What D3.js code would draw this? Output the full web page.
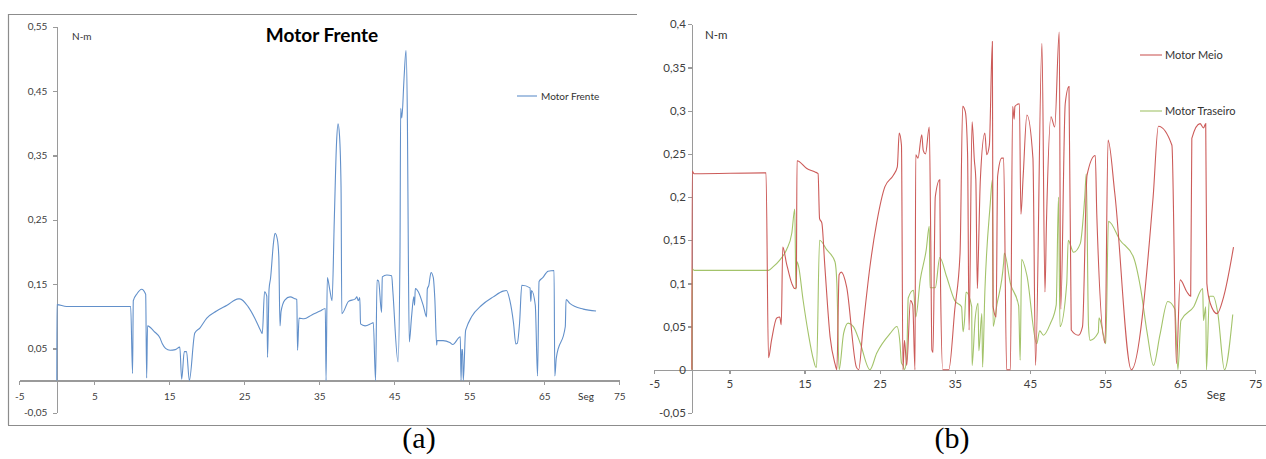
<!DOCTYPE html>
<html>
<head>
<meta charset="utf-8">
<script src="https://cdn.jsdelivr.net/npm/d3@7"></script>
<style>
  body { margin: 0; background: #fff; }
  svg { display: block; }
  .axis path, .axis line { stroke: #9a9a9a; stroke-width: 1.3; shape-rendering: crispEdges; }
  .axis text { fill: #404040; font-family: Lato, "Open Sans", sans-serif; }
  .lbl { fill: #333; font-family: Lato, "Open Sans", sans-serif; }
</style>
</head>
<body>
<svg id="chart" width="1266" height="459"></svg>
<script>
// ---- panel (a): Motor Frente ----
var frenteT = [0,0.02,1.3,9.85,10.1,10.2,10.7,11.3,11.85,11.98,12.1,13.0,13.76,14.07,14.5,15.1,15.8,16.4,16.65,17.0,17.3,17.67,18.4,19.1,20.0,21.3,22.7,24.2,24.4,25.5,26.4,27.2,27.4,27.7,28.0,28.1,28.3,28.5,28.9,29.1,29.4,29.6,29.76,29.9,30.4,31.1,31.8,32.0,32.1,32.3,32.96,34.0,35.1,35.8,35.9,36.07,36.4,36.7,37.0,37.3,37.5,37.7,37.9,38.0,38.9,39.8,40.0,40.2,40.4,40.5,41.1,42.0,42.2,42.5,42.7,42.9,43.3,43.4,44.0,44.65,44.8,45.5,45.76,45.85,46.0,46.3,46.56,46.75,46.87,47.0,47.3,47.6,47.7,47.8,48.2,48.9,49.3,49.4,49.6,49.9,50.2,50.4,50.65,50.7,51.5,52.4,52.8,53.8,53.9,54.0,54.1,54.2,54.5,54.6,55.3,56.65,58.2,59.5,59.95,60.4,60.9,61.2,61.4,61.7,62.0,63.1,63.2,63.3,63.8,64.1,64.3,64.8,65.5,66.3,66.4,66.6,67.8,67.9,68.4,70.2,71.9];
var frenteV = [0,0.118,0.115,0.115,0.011,0.124,0.135,0.142,0.134,0.004,0.085,0.076,0.066,0.057,0.05,0.047,0.048,0.052,0.002,0.045,0.045,0,0.074,0.082,0.097,0.108,0.117,0.127,0.127,0.115,0.097,0.077,0.073,0.138,0.131,0.036,0.142,0.159,0.215,0.229,0.22,0.193,0.085,0.107,0.125,0.13,0.127,0.126,0.047,0.097,0.096,0.102,0.108,0.112,0,0.16,0.141,0.124,0.25,0.37,0.399,0.38,0.3,0.104,0.123,0.127,0.13,0.124,0.129,0.088,0.085,0.089,0.09,0,0.156,0.155,0.106,0.161,0.164,0.163,0.14,0.029,0.2,0.423,0.408,0.47,0.513,0.4,0.2,0.06,0.099,0.13,0.117,0.143,0.138,0.115,0.099,0.142,0.148,0.168,0.16,0.128,0.055,0.062,0.062,0.059,0.056,0.068,0,0.048,0.048,0,0.077,0.081,0.099,0.117,0.13,0.139,0.14,0.125,0.089,0.057,0.058,0.089,0.148,0.144,0.123,0.14,0.117,0.007,0.154,0.16,0.17,0.171,0.007,0.035,0.084,0.126,0.12,0.111,0.108];

// ---- panel (b): Motor Meio / Motor Traseiro ----
var meioT = [0,0.05,0.3,9.87,10.2,10.6,11.3,11.7,11.9,12.1,12.6,13.3,13.7,13.9,14.0,15.3,16.4,16.8,17.0,17.3,17.7,18.4,19.05,19.3,19.6,19.9,20.6,21.9,22.2,22.8,23.7,24.6,25.7,26.8,27.35,27.6,27.9,28.1,28.3,28.6,29.1,29.4,29.7,29.8,30.1,30.6,30.8,31.1,31.6,31.8,31.95,32.1,32.4,33.0,33.1,33.4,34.2,35.0,35.7,36.05,36.4,36.7,36.9,37.3,37.6,37.8,38.0,38.1,38.4,39.0,39.25,39.6,40.0,40.1,40.5,40.7,41.25,41.5,41.9,42.4,42.7,42.9,43.0,43.6,43.8,44.1,44.6,45.4,45.75,46.6,47.0,47.2,47.8,48.3,48.9,49.1,49.7,50.2,50.5,51.45,52.0,52.6,53.7,53.9,55.0,55.4,56.3,58.5,61.4,62.1,63.9,64.5,65.0,65.9,66.4,66.55,67.65,68.1,68.4,68.55,69.0,69.9,70.8,72.1];
var meioV = [0,0.23,0.227,0.228,0.014,0.034,0.06,0.061,0.052,0.142,0.123,0.1,0.094,0.095,0.242,0.233,0.229,0.227,0.175,0.17,0.12,0.038,0.007,0,0.11,0.113,0.096,0.003,0,0.05,0.119,0.17,0.212,0.225,0.235,0.274,0.26,0,0.034,0.005,0.08,0.075,0,0.249,0.245,0.272,0.254,0.25,0.281,0.15,0.023,0.02,0.2,0.22,0.1,0,0,0.07,0.135,0.305,0.299,0.25,0.046,0.287,0.243,0.22,0.094,0.12,0.22,0.274,0.249,0.26,0.38,0.073,0.061,0.224,0.245,0.245,0,0,0.305,0.29,0.305,0.308,0.18,0.224,0.295,0.245,0.005,0.378,0.09,0.17,0.293,0.281,0.391,0.07,0.308,0.328,0.046,0.04,0.05,0.225,0.248,0.18,0.031,0.266,0.204,0,0.2,0.282,0.26,0.007,0.104,0.09,0.085,0.268,0.285,0.28,0.285,0.1,0.077,0.065,0.085,0.142];
var traseiroT = [0,0.05,0.3,10.2,10.8,11.7,12.6,13.3,13.7,13.85,14.0,14.2,14.8,15.5,16.2,16.5,16.6,17.0,17.95,19.05,19.3,19.6,20.2,20.8,21.5,22.4,23.7,24.6,26.4,27.3,27.7,27.9,28.1,28.3,28.6,28.8,29.5,29.8,30.4,31.2,31.6,31.7,32.4,33.0,33.9,35.0,35.9,36.1,36.3,36.5,37.25,37.3,37.7,38.1,38.2,38.6,38.7,39.0,39.7,40.0,40.1,40.6,41.5,41.6,42.4,43.5,43.7,43.9,44.6,45.9,46.3,46.8,47.7,48.5,48.8,49.0,49.9,50.1,50.8,51.7,52.3,52.5,52.8,53.0,54.1,54.2,54.8,55.1,55.45,57.0,58.8,59.7,60.6,61.45,62.3,63.35,64.3,64.7,65.1,66.8,68.0,68.1,68.4,68.5,68.9,69.4,70.0,70.9,72.0];
var traseiroV = [0,0.117,0.115,0.115,0.119,0.127,0.139,0.158,0.186,0.093,0.125,0.12,0.081,0.042,0.011,0.003,0.003,0.15,0.139,0.125,0.1,0,0.042,0.054,0.05,0.031,0,0.019,0.042,0.05,0.031,0.008,0.005,0,0.015,0.083,0.092,0.061,0.104,0.139,0.166,0.095,0.095,0.13,0.108,0.08,0.073,0.044,0.058,0.09,0.073,0.005,0.058,0.077,0.022,0.065,0.003,0.09,0.19,0.22,0.05,0.075,0.124,0.135,0.1,0.074,0.011,0.128,0.109,0.03,0.045,0.04,0.053,0.075,0.2,0.05,0.1,0.15,0.136,0.146,0.2,0.227,0.05,0.034,0.043,0.06,0.04,0.03,0.172,0.15,0.13,0.096,0.043,0.005,0.04,0.079,0.07,0,0.057,0.073,0.094,0.057,0.073,0,0.085,0.085,0.066,0,0.064];

var xTicks = [-5,5,15,25,35,45,55,65,75];
var yTicksA = [-0.05,0.05,0.15,0.25,0.35,0.45,0.55];
var yTicksB = [-0.05,0,0.05,0.1,0.15,0.2,0.25,0.3,0.35,0.4];

var svg = d3.select("#chart");
var fmt = function(v){ return (+v.toFixed(2)).toString().replace(".", ","); };
function pts(t, v){ return t.map(function(d, i){ return [d, v[i]]; }); }

// frame lines
svg.append("path").attr("d", "M8,14.5H637M8.5,14V425M8,425.5H1266")
  .attr("fill", "none").attr("stroke", "#8c8c8c").attr("stroke-width", 1.2);

// ---------- panel a ----------
var xa = d3.scaleLinear().domain([-5, 75]).range([19.3, 619.3]);
var ya = d3.scaleLinear().domain([-0.05, 0.55]).range([412.7, 26.7]);
var ga = svg.append("g");

ga.append("g").attr("class", "axis").attr("transform", "translate(0," + ya(0) + ")")
  .call(d3.axisBottom(xa).tickValues(xTicks).tickSize(4).tickSizeOuter(0).tickPadding(8).tickFormat(fmt))
  .selectAll("text").style("font-size", "10px");
ga.append("g").attr("class", "axis").attr("transform", "translate(" + xa(0) + ",0)")
  .call(d3.axisLeft(ya).tickValues(yTicksA).tickSize(4).tickSizeOuter(0).tickPadding(5.5).tickFormat(fmt))
  .selectAll("text").style("font-size", "10px");

var lineA = d3.line().x(function(d){ return xa(d[0]); }).y(function(d){ return ya(d[1]); }).curve(d3.curveMonotoneX);
ga.append("path").datum(pts(frenteT, frenteV)).attr("d", lineA)
  .attr("fill", "none").attr("stroke", "#6290ca").attr("stroke-width", 1.1);

ga.append("text").attr("class", "lbl").attr("x", 72).attr("y", 39.5).style("font-size", "10px").text("N-m");
ga.append("text").attr("x", 322).attr("y", 42).attr("text-anchor", "middle")
  .style("font-family", "Lato, sans-serif").style("font-weight", "bold").style("font-size", "19px").text("Motor Frente");
ga.append("text").attr("class", "lbl").attr("x", 586).attr("y", 399.5).attr("text-anchor", "middle").style("font-size", "10px").text("Seg");
ga.append("line").attr("x1", 517).attr("x2", 537).attr("y1", 96).attr("y2", 96).attr("stroke", "#6290ca").attr("stroke-width", 1.1);
ga.append("text").attr("class", "lbl").attr("x", 541).attr("y", 99.5).style("font-size", "10px").text("Motor Frente");

// ---------- panel b ----------
var xb = d3.scaleLinear().domain([-5, 75]).range([654.3, 1255.3]);
var yb = d3.scaleLinear().domain([-0.05, 0.4]).range([412.9, 24.3]);
var gb = svg.append("g");

gb.append("g").attr("class", "axis").attr("transform", "translate(0," + yb(0) + ")")
  .call(d3.axisBottom(xb).tickValues(xTicks).tickSize(4).tickSizeOuter(0).tickPadding(6).tickFormat(fmt))
  .selectAll("text").style("font-size", "11.5px");
gb.append("g").attr("class", "axis").attr("transform", "translate(" + xb(0) + ",0)")
  .call(d3.axisLeft(yb).tickValues(yTicksB).tickSize(4).tickSizeOuter(0).tickPadding(2).tickFormat(fmt))
  .selectAll("text").style("font-size", "11.5px");

var lineB = d3.line().x(function(d){ return xb(d[0]); }).y(function(d){ return yb(d[1]); }).curve(d3.curveMonotoneX);
gb.append("path").datum(pts(traseiroT, traseiroV)).attr("d", lineB)
  .attr("fill", "none").attr("stroke", "#a3c36a").attr("stroke-width", 1.1);
gb.append("path").datum(pts(meioT, meioV)).attr("d", lineB)
  .attr("fill", "none").attr("stroke", "#cc5b59").attr("stroke-width", 1.1);

gb.append("text").attr("class", "lbl").attr("x", 705).attr("y", 39).style("font-size", "11.5px").text("N-m");
gb.append("text").attr("class", "lbl").attr("x", 1216).attr("y", 399).attr("text-anchor", "middle").style("font-size", "11.5px").text("Seg");
gb.append("line").attr("x1", 1140).attr("x2", 1162).attr("y1", 55).attr("y2", 55).attr("stroke", "#cc5b59").attr("stroke-width", 1.1);
gb.append("text").attr("class", "lbl").attr("x", 1165).attr("y", 59).style("font-size", "11px").text("Motor Meio");
gb.append("line").attr("x1", 1140).attr("x2", 1162).attr("y1", 111).attr("y2", 111).attr("stroke", "#a3c36a").attr("stroke-width", 1.1);
gb.append("text").attr("class", "lbl").attr("x", 1165).attr("y", 115).style("font-size", "11px").text("Motor Traseiro");

// captions
svg.append("text").attr("x", 419).attr("y", 448).attr("text-anchor", "middle")
  .style("font-family", "'Liberation Serif', 'Times New Roman', serif").style("font-size", "30px").text("(a)");
svg.append("text").attr("x", 952).attr("y", 448).attr("text-anchor", "middle")
  .style("font-family", "'Liberation Serif', 'Times New Roman', serif").style("font-size", "30px").text("(b)");
</script>
</body>
</html>
